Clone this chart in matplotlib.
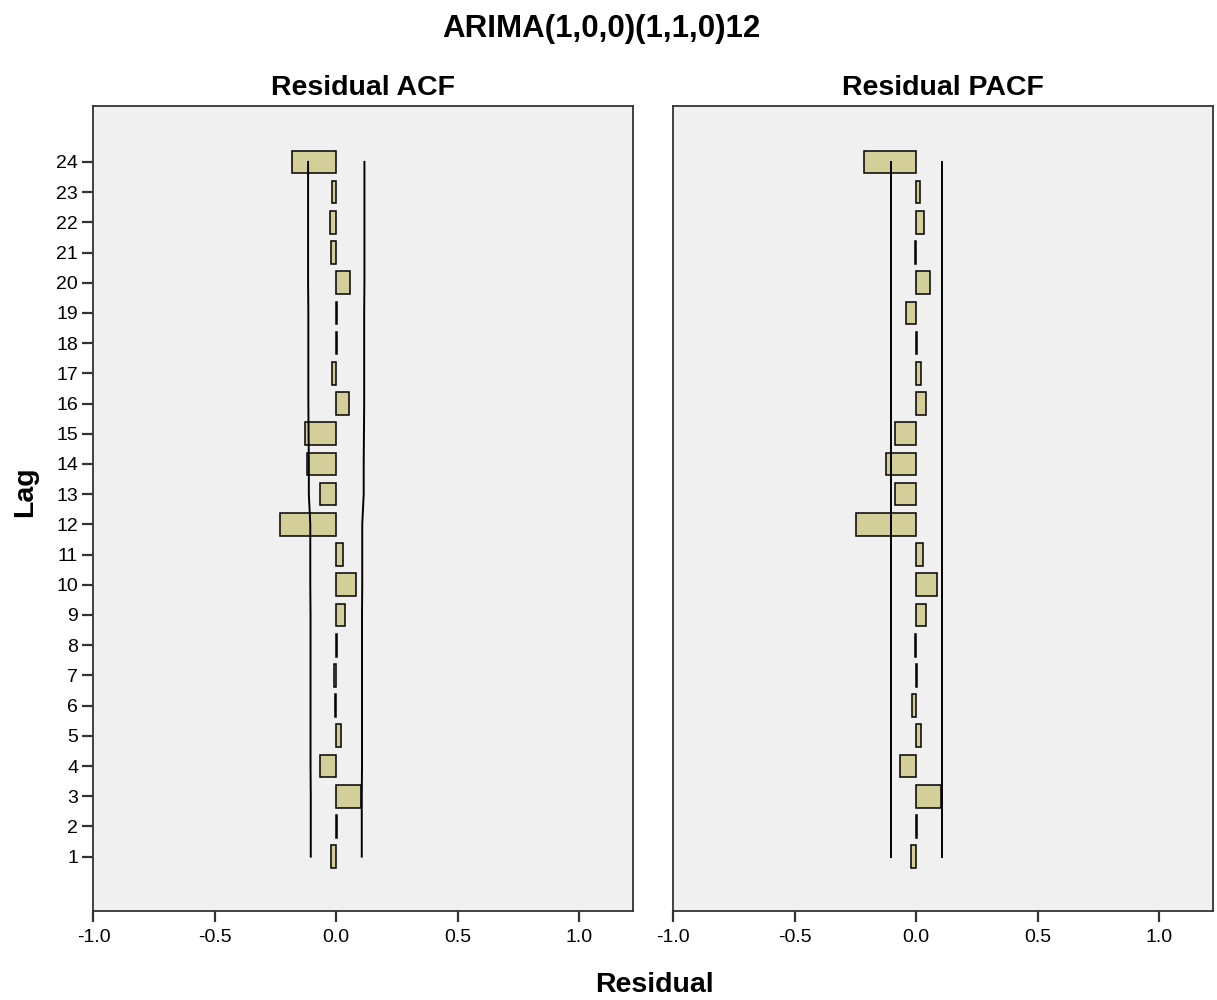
import numpy as np
import matplotlib.pyplot as plt

plt.rcParams['font.family'] = ['Liberation Sans', 'DejaVu Sans']

# lags and residual correlations
lags = list(range(1, 25))
acf_vals = [-0.022, 0.004, 0.100, -0.069, 0.021, -0.005, -0.010, 0.005, 0.037, 0.082,
            0.028, -0.233, -0.067, -0.120, -0.130, 0.052, -0.017, 0.003, 0.004, 0.055,
            -0.023, -0.026, -0.019, -0.183]
pacf_vals = [-0.020, 0.003, 0.101, -0.064, 0.022, -0.015, 0.004, -0.004, 0.043, 0.088,
             0.029, -0.246, -0.088, -0.122, -0.088, 0.040, 0.022, 0.003, -0.040, 0.056,
             -0.005, 0.034, 0.015, -0.213]
# confidence limits (upper; lower is the negative)
acf_ci = [0.105, 0.105, 0.105, 0.106, 0.106, 0.106, 0.106, 0.106, 0.106, 0.107, 0.107, 0.107,
          0.113, 0.113, 0.114, 0.115, 0.115, 0.115, 0.115, 0.116, 0.116, 0.116, 0.116, 0.116]
pacf_ci = [0.105] * 24

x_ticks = [-1.0, -0.5, 0.0, 0.5, 1.0]
bar_color = "#D4CF98"
bg_color = "#F0F0F0"

fig = plt.figure(figsize=(12.17, 10), dpi=100)
ax1 = fig.add_axes([0.0768, 0.089, 0.4433, 0.805])
ax2 = fig.add_axes([0.553, 0.089, 0.4437, 0.805])

panels = [(ax1, acf_vals, acf_ci, "Residual ACF"),
          (ax2, pacf_vals, pacf_ci, "Residual PACF")]

for ax, vals, ci, ttl in panels:
    ax.set_facecolor(bg_color)
    ax.barh(lags, vals, height=0.75, color=bar_color, edgecolor="black", linewidth=1.1, zorder=2)
    ax.plot(ci, lags, color="black", linewidth=1.4, zorder=3)
    ax.plot([-c for c in ci], lags, color="black", linewidth=1.4, zorder=3)
    ax.set_xlim(-1.0, 1.222)
    ax.set_ylim(-0.8, 25.85)
    ax.set_xticks(x_ticks)
    ax.set_xticklabels([f"{t:.1f}" for t in x_ticks])
    ax.tick_params(axis="x", length=8, width=1.6, color="#333333", labelsize=14, pad=5)
    ax.set_title(ttl, fontsize=20.5, fontweight="bold", pad=8)
    for sp in ax.spines.values():
        sp.set_color("#333333")
        sp.set_linewidth(1.3)

ax1.set_yticks(lags)
ax1.set_yticklabels([str(l) for l in lags])
ax1.tick_params(axis="y", length=8, width=1.6, color="#333333", labelsize=14, pad=3)
ax2.set_yticks([])

fig.suptitle("ARIMA(1,0,0)(1,1,0)12", fontsize=22.5, fontweight="bold", x=0.494, y=0.986)
fig.text(0.021, 0.5085, "Lag", rotation=90, fontsize=20.5, fontweight="bold", ha="center", va="center")
fig.text(0.538, 0.015, "Residual", fontsize=20.5, fontweight="bold", ha="center", va="center")

fig.savefig("out.png", dpi=100)
